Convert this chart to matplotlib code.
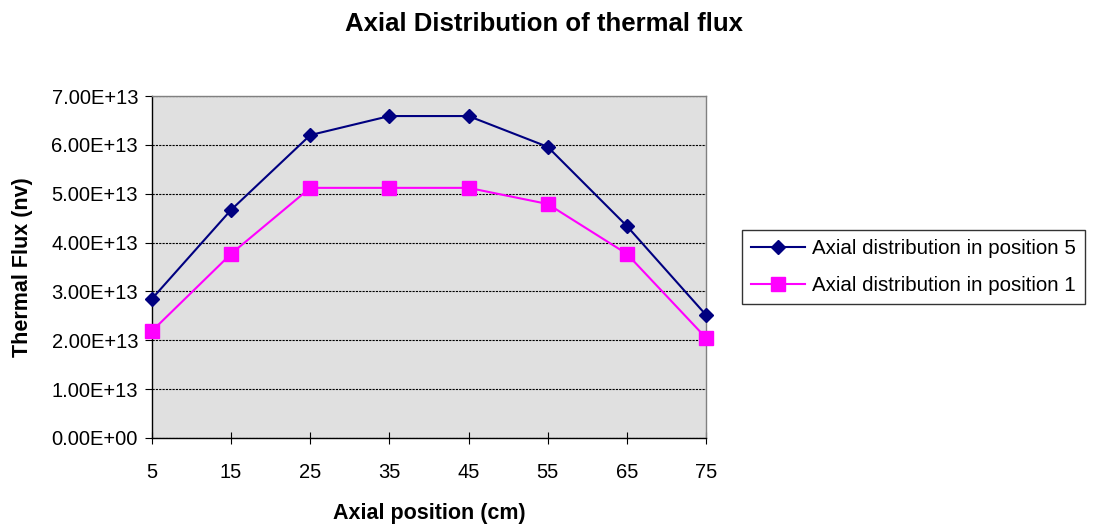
import matplotlib.pyplot as plt
from matplotlib.ticker import FuncFormatter

plt.rcParams['font.family'] = ['Liberation Sans', 'DejaVu Sans']

position = [5, 15, 25, 35, 45, 55, 65, 75]
flux_pos5 = [2.85e13, 4.67e13, 6.20e13, 6.59e13, 6.59e13, 5.96e13, 4.34e13, 2.52e13]
flux_pos1 = [2.19e13, 3.77e13, 5.12e13, 5.12e13, 5.12e13, 4.79e13, 3.77e13, 2.05e13]
yticks = [0, 1e13, 2e13, 3e13, 4e13, 5e13, 6e13, 7e13]

fig = plt.figure(figsize=(10.95, 5.27), dpi=100)
ax = fig.add_axes([0.1388, 0.1689, 0.5059, 0.6489])
ax.set_facecolor('#E0E0E0')

ax.plot(position, flux_pos5, color='#000080', marker='D', markersize=6.8, lw=1.5,
        label='Axial distribution in position 5', clip_on=False, zorder=3)
ax.plot(position, flux_pos1, color='#FF00FF', marker='s', markersize=10, lw=1.5,
        label='Axial distribution in position 1', clip_on=False, zorder=3)

ax.set_xlim(5, 75)
ax.set_ylim(0, 7e13)
ax.set_xticks(position)
ax.set_yticks(yticks)
ax.yaxis.set_major_formatter(FuncFormatter(lambda v, p: '%.2fE+%02d' % (v / 1e13, 13) if v else '0.00E+00'))
ax.grid(axis='y', color='black', linestyle=(0, (2, 1)), lw=0.8)
ax.set_axisbelow(True)

for s in ['top', 'right']:
    ax.spines[s].set_color('#808080')
    ax.spines[s].set_linewidth(1)
for s in ['left', 'bottom']:
    ax.spines[s].set_color('black')
    ax.spines[s].set_linewidth(1)
ax.tick_params(axis='x', direction='inout', length=8, labelsize=14.5, pad=14)
ax.tick_params(axis='y', direction='out', length=5, labelsize=14.5, pad=5)

fig.text(0.497, 0.955, 'Axial Distribution of thermal flux', fontsize=18.5, fontweight='bold',
         ha='center', va='center')
ax.set_xlabel('Axial position (cm)', fontsize=15.5, fontweight='bold', labelpad=15)
ax.set_ylabel('Thermal Flux (nv)', fontsize=15.5, fontweight='bold', labelpad=13)

leg = ax.legend(loc='center left', bbox_to_anchor=(1.065, 0.5), fontsize=14.8, frameon=True,
                fancybox=False, edgecolor='black', handlelength=2.6, borderpad=0.45,
                labelspacing=0.85, handletextpad=0.35, borderaxespad=0)
leg.get_frame().set_linewidth(1)

fig.savefig('out.png', dpi=100)
